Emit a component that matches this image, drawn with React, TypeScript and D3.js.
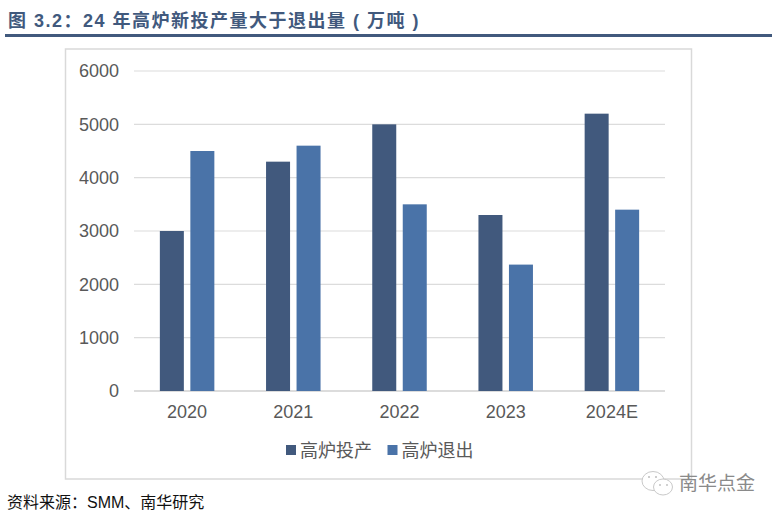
import React from "react";
import * as d3 from "d3";

const categories = ["2020", "2021", "2022", "2023", "2024E"];
const seriesNames = ["高炉投产", "高炉退出"];
const commissioned = [3000, 4300, 5000, 3300, 5200];
const retired = [4500, 4600, 3500, 2370, 3400];
const yTicks = [0, 1000, 2000, 3000, 4000, 5000, 6000];
const colors = ["#41597d", "#4a73a8"];

const cjk = '"Liberation Sans", "Noto Sans CJK SC", sans-serif';

export default function App() {
  const x = d3.scaleBand<string>().domain(categories).range([134, 665]);
  const y = d3.scaleLinear().domain([0, 6000]).range([391, 71]);
  const bw = 24;
  const gap = 6.5;
  const cx = (c: string) => (x(c) as number) + x.bandwidth() / 2;
  return (
    <svg
      width={779}
      height={517}
      style={{ position: "absolute", left: 0, top: 0, background: "#fff" }}
      fontFamily={cjk}
    >
      <text x={8} y={27} fontSize={18} fontWeight={700} fill="#41597d" letterSpacing={1.5}>
        图 3.2：24 年高炉新投产量大于退出量 ( 万吨 )
      </text>
      <rect x={5} y={34} width={767} height={3} fill="#41597d" />
      <rect x={65.5} y={49} width={626} height={430} fill="none" stroke="#d9d9d9" strokeWidth={1.5} />

      {yTicks.map((t) => (
        <g key={t}>
          <line x1={134} x2={665} y1={y(t)} y2={y(t)} stroke={t === 0 ? "#d0d0d0" : "#dcdcdc"} strokeWidth={t === 0 ? 1.5 : 1.2} />
          <text x={119} y={y(t)} dy="0.35em" textAnchor="end" fontSize={18} fill="#595959">
            {t}
          </text>
        </g>
      ))}

      {categories.map((c, i) => (
        <g key={c}>
          <rect x={cx(c) - gap / 2 - bw} y={y(commissioned[i])} width={bw} height={y(0) - y(commissioned[i])} fill={colors[0]} />
          <rect x={cx(c) + gap / 2} y={y(retired[i])} width={bw} height={y(0) - y(retired[i])} fill={colors[1]} />
          <text x={cx(c)} y={418} textAnchor="middle" fontSize={18} fill="#595959">
            {c}
          </text>
        </g>
      ))}

      {seriesNames.map((s, i) => {
        const lx = 288 + i * 101.5;
        return (
          <g key={s}>
            <rect x={lx - 2} y={445} width={10} height={10} fill={colors[i]} />
            <text x={lx + 12} y={456.5} fontSize={18} fill="#595959">
              {s}
            </text>
          </g>
        );
      })}

      <text x={7} y={508} fontSize={16} fill="#111">
        资料来源：SMM、南华研究
      </text>

      <g fill="#fff" stroke="#c9c9c9" strokeWidth={1}>
        <ellipse cx={653} cy={481} rx={11} ry={9.5} />
        <ellipse cx={663} cy={487} rx={9.5} ry={8} />
      </g>
      <g fill="#bdbdbd">
        <circle cx={649} cy={477} r={1} />
        <circle cx={656} cy={477} r={1} />
        <circle cx={660} cy={485} r={0.9} />
        <circle cx={667} cy={485} r={0.9} />
      </g>
      <text x={679} y={490} fontSize={19} fill="#8a8a8a">
        南华点金
      </text>
    </svg>
  );
}
